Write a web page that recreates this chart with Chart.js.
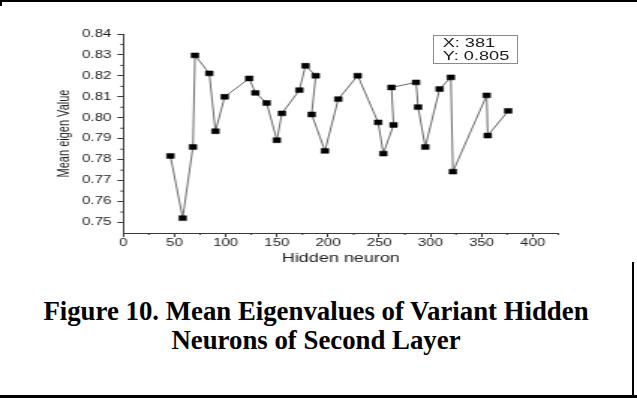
<!DOCTYPE html>
<html><head><meta charset="utf-8">
<script src="https://cdn.jsdelivr.net/npm/chart.js@4.4.1/dist/chart.umd.min.js"></script>
<style>
html,body{margin:0;padding:0;background:#fff;width:637px;height:398px;overflow:hidden;position:relative}
#c{position:absolute;left:0;top:0}
.ln{position:absolute;background:#000}
#note{position:absolute;left:433px;top:35px;width:85px;height:29px;border:1px solid #8a8a8a;box-sizing:border-box;overflow:visible;padding-top:1px}
#note div{font-family:"Liberation Sans",Arial,sans-serif;font-size:12.5px;line-height:13px;color:#1a1a1a;transform:scaleX(1.45);transform-origin:0 0;padding-left:6px;white-space:nowrap}
#cap{position:absolute;left:0;top:297px;width:632px;text-align:center;font-family:"Liberation Serif","Times New Roman",serif;font-weight:bold;font-size:26.8px;line-height:29px;color:#000}
</style></head><body>
<div class="ln" style="left:0;top:0;width:637px;height:2px"></div>
<div class="ln" style="left:0;top:0;width:2px;height:6px"></div>
<div class="ln" style="left:632px;top:262px;width:2px;height:136px"></div>
<div class="ln" style="left:0;top:395px;width:637px;height:3px"></div>
<canvas id="c" width="425" height="280" style="width:637px;height:280px"></canvas>
<div id="note"><div>X: 381</div><div>Y: 0.805</div></div>
<div id="cap">Figure 10. Mean Eigenvalues of Variant Hidden<br>Neurons of Second Layer</div>
<script>
const hiddenNeurons = [46,58,68,70,84,90,99,123,129,140,150,155,172,178,188,184,197,210,229,249,254,264,262,286,288,295,309,320,322,355,356,376];
const meanEigenValue = [0.7818,0.7521,0.7861,0.8298,0.8212,0.7936,0.8100,0.8188,0.8119,0.8071,0.7893,0.8021,0.8132,0.8248,0.8201,0.8016,0.7842,0.8089,0.8201,0.7978,0.7829,0.7966,0.8145,0.8169,0.8051,0.7861,0.8137,0.8193,0.7743,0.8107,0.7915,0.8033];
const xTickLabels = ['0','50','100','150','200','250','300','350','400'];
const yTickLabels = ['0.75','0.76','0.77','0.78','0.79','0.80','0.81','0.82','0.83','0.84'];
const xTitle = 'Hidden neuron';
const yTitle = 'Mean eigen Value';

const points = hiddenNeurons.map((x, i) => ({x: x, y: meanEigenValue[i]}));
const AX = '#3a3a3a';
const TXT = '#222';
const isMajorX = v => xTickLabels.includes(String(v));
const isMajorY = v => yTickLabels.includes(v.toFixed(2)) && Math.abs(v * 100 - Math.round(v * 100)) < 1e-6;

const minorTicks = {
  id: 'minorTicks',
  afterDraw(chart) {
    const ctx = chart.ctx, xs = chart.scales.x, ys = chart.scales.y;
    ctx.save();
    ctx.strokeStyle = AX; ctx.lineWidth = 1;
    ctx.beginPath();
    xs.ticks.forEach(t => {
      if (!isMajorX(t.value)) { const p = xs.getPixelForValue(t.value); ctx.moveTo(p, ys.bottom); ctx.lineTo(p, ys.bottom + 2); }
    });
    ys.ticks.forEach(t => {
      if (!isMajorY(t.value) && t.value > 0.746) { const p = ys.getPixelForValue(t.value); ctx.moveTo(xs.left - 2, p); ctx.lineTo(xs.left, p); }
    });
    ctx.stroke();
    ctx.restore();
  }
};

new Chart(document.getElementById('c'), {
  type: 'scatter',
  data: { datasets: [{
    data: points,
    showLine: true,
    borderColor: '#6a6a6a',
    borderWidth: 1,
    pointStyle: 'rect',
    pointRadius: 3.5,
    pointBackgroundColor: '#000',
    pointBorderColor: '#000',
    pointBorderWidth: 0.5
  }]},
  options: {
    responsive: false,
    devicePixelRatio: 1,
    animation: false,
    layout: { padding: { left: 36, top: 34, right: 52.5, bottom: 14.5 } },
    plugins: { legend: { display: false }, tooltip: { enabled: false } },
    scales: {
      x: {
        type: 'linear', min: 0, max: 425,
        afterFit: s => { s.height = 32.5; },
        border: { display: true, color: AX, width: 1 },
        grid: { drawOnChartArea: false, drawTicks: true, tickLength: 4,
                tickColor: c => (c.tick && isMajorX(c.tick.value)) ? AX : 'rgba(0,0,0,0)' },
        ticks: { stepSize: 25, includeBounds: false, autoSkip: false, maxRotation: 0, padding: 0,
                 color: TXT, font: { family: '"Liberation Sans", Arial, sans-serif', size: 10 },
                 callback: v => isMajorX(v) ? String(v) : '' },
        title: { display: true, text: xTitle, color: TXT, padding: 0,
                 font: { family: '"Liberation Sans", Arial, sans-serif', size: 12 } }
      },
      y: {
        type: 'linear', min: 0.745, max: 0.84,
        afterFit: s => { s.width = 46.27; },
        border: { display: true, color: AX, width: 1 },
        grid: { drawOnChartArea: false, drawTicks: true, tickLength: 4,
                tickColor: c => (c.tick && isMajorY(c.tick.value)) ? AX : 'rgba(0,0,0,0)' },
        ticks: { stepSize: 0.005, includeBounds: false, autoSkip: false, padding: 4,
                 color: TXT, font: { family: '"Liberation Sans", Arial, sans-serif', size: 10 },
                 callback: v => isMajorY(v) ? v.toFixed(2) : '' },
        title: { display: true, text: yTitle, color: TXT, padding: 0,
                 font: { family: '"Liberation Sans", Arial, sans-serif', size: 11 } }
      }
    }
  },
  plugins: [minorTicks]
});
</script>
</body></html>
